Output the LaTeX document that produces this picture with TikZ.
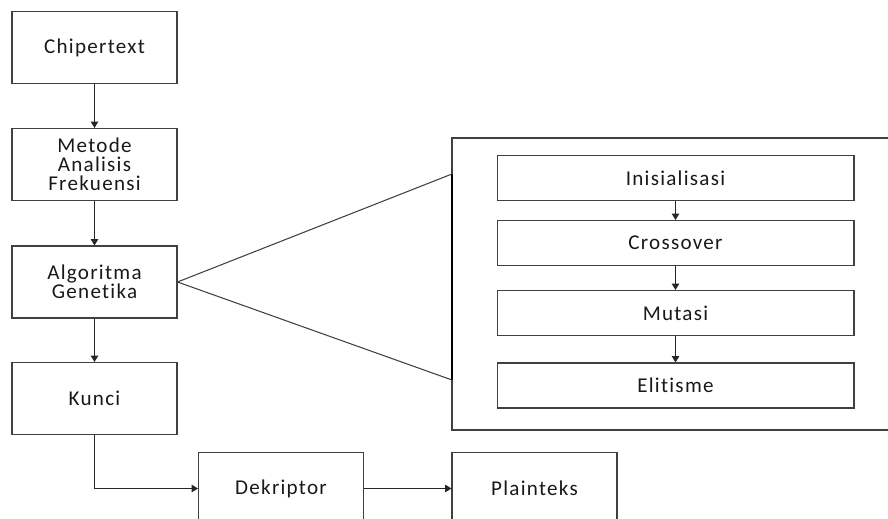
\documentclass[tikz,border=0pt]{standalone}
\usepackage{fontspec}
\setmainfont{Carlito}[LetterSpace=6, Ligatures={NoCommon}]
\usepackage{tikz}
\usetikzlibrary{arrows.meta,positioning,calc}
\definecolor{lineGray}{HTML}{404040}

\begin{document}
\begin{tikzpicture}[x=0.02cm, y=-0.02cm,
  font=\fontsize{12}{10.8}\selectfont,
  bx/.style={draw=lineGray, line width=0.6pt, align=center, text=black!90,
    minimum width=3.3cm, minimum height=1.44cm, inner sep=1pt},
  sub/.style={bx, minimum width=7.14cm, minimum height=0.9cm},
  arr/.style={-{Triangle[width=4.2pt,length=3.6pt]}, line width=0.6pt, black!85}]
\useasboundingbox (0,0) rectangle (888,519);
\clip (0,0) rectangle (888,519);
% main chain on the left
\node[bx] (chip) at (94.5,47.5) {Chipertext};
\node[bx] (metode) at (94.5,164.5) {Metode\\Analisis\\Frekuensi};
\node[bx] (algo) at (94.5,282) {Algoritma\\Genetika};
\node[bx] (kunci) at (94.5,398.5) {Kunci};
\node[bx] (dek) at (281,488.5) {Dekriptor};
\node[bx] (plain) at (534.5,488.5) {Plainteks};
% detail panel of the genetic algorithm
\draw[lineGray, line width=0.6pt] (452,138) rectangle (900,430);
\node[sub] (init) at (675.5,178) {Inisialisasi};
\node[sub] (cross) at (675.5,243) {Crossover};
\node[sub] (mut) at (675.5,313) {Mutasi};
\node[sub] (elit) at (675.5,385.5) {Elitisme};
\coordinate (tA) at (452,174);
\coordinate (tB) at (452,380);
\draw[lineGray, line width=0.6pt] (tA) -- (algo.east) -- (tB);
\draw[black, line width=1.4pt] (tA) -- (tB);
% arrows
\draw[arr] (chip) -- (metode);
\draw[arr] (metode) -- (algo);
\draw[arr] (algo) -- (kunci);
\draw[arr] (kunci.south) |- (dek.west);
\draw[arr] (dek) -- (plain);
\draw[arr] (init) -- (cross);
\draw[arr] (cross) -- (mut);
\draw[arr] (mut) -- (elit);
\end{tikzpicture}
\end{document}
